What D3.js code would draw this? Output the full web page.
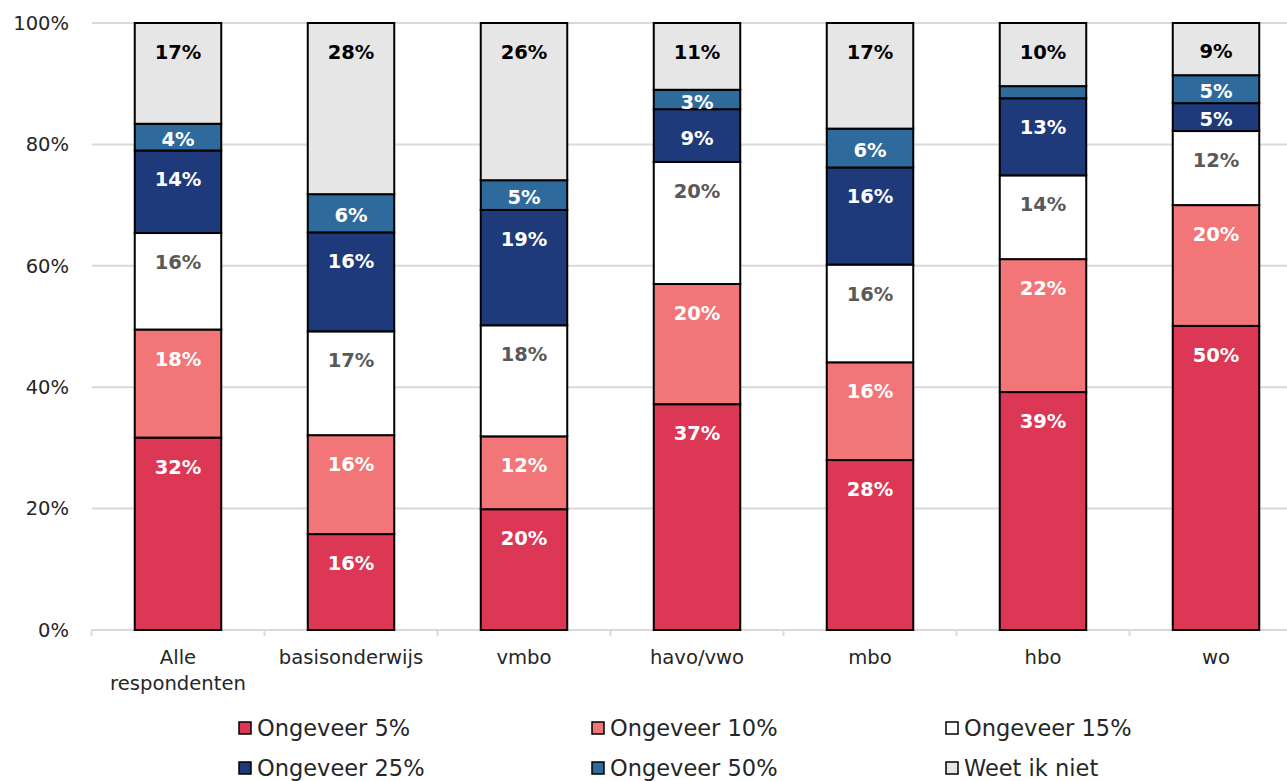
<!DOCTYPE html>
<html><head><meta charset="utf-8">
<script src="https://cdn.jsdelivr.net/npm/d3@7"></script>
<style>
html,body{margin:0;padding:0;background:#fff;overflow:hidden}
svg{display:block;font-family:"DejaVu Sans",sans-serif}
</style></head>
<body>
<svg id="chart" width="1287" height="781"></svg>
<script>
const categories = ["Alle respondenten","basisonderwijs","vmbo","havo/vwo","mbo","hbo","wo"];
const seriesNames = ["Ongeveer 5%","Ongeveer 10%","Ongeveer 15%","Ongeveer 25%","Ongeveer 50%","Weet ik niet"];
const s5  = [31.7, 15.8, 19.9, 37.2, 28.0, 39.2, 50.1];
const s10 = [17.8, 16.3, 12.0, 19.8, 16.1, 21.9, 19.9];
const s15 = [15.9, 17.1, 18.3, 20.1, 16.1, 13.8, 12.2];
const s25 = [13.6, 16.3, 19.0, 8.7, 16.0, 12.7, 4.6];
const s50 = [4.4, 6.3, 4.9, 3.2, 6.4, 2.0, 4.6];
const sWeet = [16.6, 28.2, 25.9, 11.0, 17.4, 10.4, 8.6];
const yTicks = [0, 20, 40, 60, 80, 100];

const seriesValues = [s5, s10, s15, s25, s50, sWeet];
const colors = ["#DC3754", "#F27577", "#FFFFFF", "#1F3A7A", "#2F6A9C", "#E6E6E6"];
const labelColors = ["#FFFFFF", "#FFFFFF", "#595959", "#FFFFFF", "#FFFFFF", "#000000"];

const svg = d3.select("#chart");
const x = d3.scaleBand().domain(categories).range([91.5, 1302.5]).paddingInner(0.5).paddingOuter(0.25);
const y = d3.scaleLinear().domain([0, 100]).range([630, 23]);

// gridlines
svg.append("g").selectAll("line").data(yTicks.filter(t => t > 0)).join("line")
  .attr("x1", 92).attr("x2", 1287)
  .attr("y1", d => y(d)).attr("y2", d => y(d))
  .attr("stroke", "#D9D9D9").attr("stroke-width", 2);

// y labels
svg.append("g").selectAll("text").data(yTicks).join("text")
  .attr("x", 69).attr("y", d => y(d)).attr("dy", "0.35em")
  .attr("text-anchor", "end").attr("font-size", 19.5).attr("fill", "#262626")
  .text(d => d + "%");

// x axis
const xAxisG = svg.append("g");
xAxisG.append("line").attr("x1", 91.5).attr("x2", 1287).attr("y1", y(0)).attr("y2", y(0))
  .attr("stroke", "#D9D9D9").attr("stroke-width", 2);
const boundaries = d3.range(categories.length + 1).map(i => 91.5 + i * x.step());
xAxisG.selectAll("line.tick").data(boundaries).join("line").attr("class", "tick")
  .attr("x1", d => d).attr("x2", d => d).attr("y1", y(0)).attr("y2", y(0) + 6)
  .attr("stroke", "#D9D9D9").attr("stroke-width", 2);

const xl = svg.append("g").selectAll("text").data(categories).join("text")
  .attr("x", d => x(d) + x.bandwidth() / 2).attr("y", 664)
  .attr("text-anchor", "middle").attr("font-size", 19.6).attr("fill", "#262626");
xl.each(function(d) {
  const words = d.split(" ");
  const t = d3.select(this);
  words.forEach((w, i) => {
    t.append("tspan").attr("x", x(d) + x.bandwidth() / 2).attr("dy", i === 0 ? 0 : 26).text(w);
  });
});

// stacked bars
const rows = categories.map((c, i) => {
  const o = { cat: c };
  seriesNames.forEach((s, k) => o[s] = seriesValues[k][i]);
  return o;
});
const stacked = d3.stack().keys(seriesNames)(rows);

stacked.forEach((layer, k) => {
  const g = svg.append("g");
  g.selectAll("rect").data(layer).join("rect")
    .attr("x", d => x(d.data.cat))
    .attr("y", d => y(d[1]))
    .attr("width", x.bandwidth())
    .attr("height", d => y(d[0]) - y(d[1]))
    .attr("fill", colors[k])
    .attr("stroke", "#000").attr("stroke-width", 2);
});

stacked.forEach((layer, k) => {
  const g = svg.append("g");
  g.selectAll("text").data(layer.filter(d => d[1] - d[0] >= 2.5)).join("text")
    .attr("x", d => x(d.data.cat) + x.bandwidth() / 2)
    .attr("y", d => {
      const top = y(d[1]), h = y(d[0]) - y(d[1]);
      return top + Math.min(29, h / 2 + 2);
    })
    .attr("dy", "0.36em")
    .attr("text-anchor", "middle").attr("font-size", 19.5).attr("font-weight", "bold")
    .attr("fill", labelColors[k])
    .text(d => Math.round(d[1] - d[0]) + "%");
});

// legend
const legX = [238, 591, 945];
const legY = [728, 768];
const leg = svg.append("g").selectAll("g").data(seriesNames).join("g")
  .attr("transform", (d, i) => `translate(${legX[i % 3]},${legY[Math.floor(i / 3)]})`);
leg.append("rect").attr("x", 1).attr("y", -6).attr("width", 12).attr("height", 12)
  .attr("fill", (d, i) => colors[i]).attr("stroke", "#000").attr("stroke-width", 1.5);
leg.append("text").attr("x", 19).attr("y", 0).attr("dy", "0.36em")
  .attr("font-size", 22.5).attr("fill", "#262626").text(d => d);
</script>
</body></html>
